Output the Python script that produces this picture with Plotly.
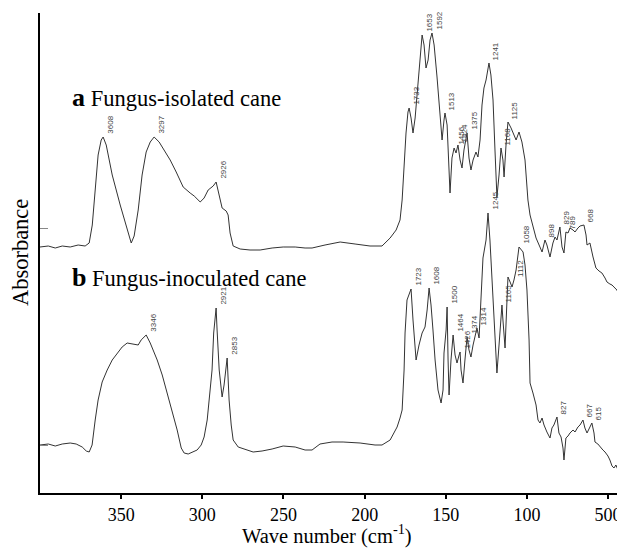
import plotly.graph_objects as go

# ---------------- data (absorbance in arbitrary units) -------------
wn_a = [4000, 3949, 3906, 3863, 3814, 3765, 3722, 3697, 3678, 3660, 3642, 3623, 3611, 3592, 3555, 3506,
        3463, 3438, 3420, 3395, 3371, 3346, 3321, 3297, 3266, 3229, 3198, 3161, 3118, 3075, 3050, 3013,
        2989, 2964, 2933, 2915, 2896, 2878, 2853, 2841, 2829, 2810, 2767, 2706, 2644, 2570, 2502, 2428,
        2367, 2324, 2244, 2151, 2059, 1967, 1893, 1843, 1806, 1782, 1769, 1757, 1745, 1733, 1726, 1714,
        1702, 1689, 1671, 1659, 1646, 1634, 1622, 1609, 1597, 1585, 1572, 1554, 1535, 1523, 1511, 1505,
        1492, 1480, 1474, 1462, 1449, 1437, 1425, 1412, 1400, 1388, 1375, 1369, 1357, 1345, 1332, 1314,
        1302, 1289, 1277, 1265, 1252, 1234, 1222, 1209, 1197, 1185, 1172, 1160, 1148, 1141, 1129, 1117,
        1098, 1080, 1067, 1049, 1031, 1012, 994, 981, 963, 944, 920, 907, 889, 877, 858, 840, 827, 815,
        797, 784, 772, 760, 747, 735, 716, 704, 686, 673, 649, 636, 630, 612, 593, 575, 556, 538, 519,
        507, 489, 476, 458, 446, 433, 427, 415, 402]
abs_a = [246, 247, 245, 247, 246, 248, 247, 250, 268, 303, 338, 353, 356, 348, 318, 288,
         263, 250, 257, 283, 318, 341, 351, 356, 351, 341, 333, 321, 306, 300, 297, 291,
         295, 303, 307, 311, 298, 285, 282, 278, 260, 247, 244, 243, 243, 245, 246, 246,
         245, 245, 248, 251, 249, 247, 247, 255, 263, 273, 293, 328, 360, 381, 385, 375,
         360, 375, 410, 438, 458, 448, 425, 433, 453, 460, 448, 416, 378, 353, 373, 380,
         368, 318, 300, 335, 345, 340, 348, 333, 325, 343, 358, 360, 335, 323, 333, 341,
         336, 353, 388, 405, 413, 430, 418, 393, 343, 296, 318, 345, 333, 316, 348, 371,
         365, 358, 353, 361, 351, 333, 293, 278, 266, 255, 246, 241, 253, 248, 236, 250, 256, 253,
         266, 246, 240, 261, 260, 265, 263, 261, 265, 267, 268, 258, 248, 250, 236, 225, 222, 220, 215,
         211, 209, 208, 205, 203, 198, 195, 196, 193]

wn_b = [4000, 3949, 3906, 3863, 3814, 3777, 3740, 3715, 3697, 3679, 3660, 3642, 3617, 3586, 3555, 3525,
        3494, 3463, 3426, 3395, 3377, 3346, 3321, 3297, 3278, 3247, 3217, 3186, 3155, 3130, 3112, 3087,
        3063, 3032, 3007, 2989, 2970, 2952, 2940, 2930, 2915, 2909, 2896, 2878, 2866, 2847, 2835, 2822,
        2810, 2779, 2736, 2687, 2632, 2570, 2502, 2428, 2367, 2324, 2275, 2201, 2133, 2028, 1936, 1893,
        1843, 1800, 1782, 1769, 1757, 1751, 1739, 1726, 1714, 1702, 1683, 1665, 1646, 1628, 1615, 1603,
        1591, 1579, 1566, 1548, 1529, 1517, 1511, 1498, 1492, 1486, 1480, 1468, 1455, 1443, 1431, 1418,
        1412, 1406, 1394, 1382, 1369, 1357, 1345, 1332, 1320, 1308, 1295, 1283, 1271, 1252, 1240, 1228,
        1215, 1203, 1185, 1172, 1154, 1148, 1135, 1123, 1117, 1104, 1092, 1080, 1067, 1049, 1037, 1024,
        1012, 1000, 987, 981, 963, 944, 932, 920, 907, 895, 877, 858, 846, 834, 815, 803, 790, 778, 772,
        760, 747, 735, 716, 704, 686, 673, 655, 643, 630, 612, 600, 587, 581, 563, 550, 532, 519, 501,
        489, 476, 464, 452, 439, 427, 415, 409, 402]
abs_b = [48, 49, 47, 49, 50, 49, 46, 42, 41, 48, 73, 93, 111, 123, 133, 140,
         146, 150, 149, 148, 153, 158, 150, 141, 133, 118, 100, 81, 63, 45, 40, 39,
         41, 43, 48, 56, 73, 100, 123, 160, 185, 163, 123, 96, 108, 135, 93, 68,
         53, 46, 44, 41, 42, 44, 47, 46, 43, 43, 49, 51, 51, 50, 48, 48,
         53, 66, 75, 83, 123, 160, 193, 198, 204, 173, 133, 148, 160, 166, 183, 205,
         188, 163, 133, 103, 90, 103, 140, 163, 186, 133, 98, 133, 158, 138, 130, 138,
         141, 123, 110, 133, 156, 143, 136, 148, 158, 165, 155, 193, 235, 253, 280, 253,
         213, 163, 120, 148, 188, 173, 145, 193, 216, 211, 206, 213, 223, 246, 243, 241,
         228, 203, 153, 110, 100, 88, 73, 70, 75, 68, 61, 55, 65, 68, 76, 60, 56, 45, 33,
         55, 57, 60, 63, 61, 66, 68, 73, 65, 60, 66, 70, 60, 51, 49, 46, 43, 41, 37,
         33, 27, 25, 28, 23, 20, 18, 10, 13]

peak_labels_a = ["3608", "3297", "2926", "1733", "1653", "1592", "1513", "1456", "1424", "1375",
                 "1241", "1168", "1125", "898", "829", "789", "668"]
peak_wn_a = [3611, 3297, 2915, 1726, 1646, 1585, 1505, 1449, 1425, 1369, 1234, 1160, 1117, 889, 797, 760, 649]
peak_abs_a = [356, 356, 311, 385, 458, 460, 380, 345, 348, 360, 430, 345, 371, 253, 266, 261, 268]

peak_labels_b = ["3346", "2921", "2853", "1723", "1608", "1500", "1464", "1426", "1374", "1314",
                 "1245", "1165", "1112", "1058", "827", "667", "615"]
peak_wn_b = [3346, 2915, 2847, 1714, 1603, 1492, 1455, 1412, 1369, 1308, 1240, 1154, 1080, 1049, 815, 655, 600]
peak_abs_b = [158, 185, 135, 204, 205, 186, 158, 141, 156, 165, 280, 188, 213, 246, 76, 73, 70]

tick_vals = [3500, 3000, 2500, 2000, 1500, 1000, 500]
tick_text = ["350", "300", "250", "200", "150", "100", "500"]

# ---------------- figure ----------------
SERIF = "Liberation Serif, Times New Roman, serif"
SANS = "Liberation Sans, Arial, sans-serif"

fig = go.Figure()
fig.add_trace(go.Scatter(x=wn_a, y=abs_a, mode="lines", line=dict(color="#333333", width=1),
                         showlegend=False, hoverinfo="skip"))
fig.add_trace(go.Scatter(x=wn_b, y=abs_b, mode="lines", line=dict(color="#333333", width=1),
                         showlegend=False, hoverinfo="skip"))

annotations = []
for lab, x, y in list(zip(peak_labels_a, peak_wn_a, peak_abs_a)) + list(zip(peak_labels_b, peak_wn_b, peak_abs_b)):
    annotations.append(dict(x=x, y=y, xref="x", yref="y", text=lab, showarrow=False, textangle=-90,
                            xanchor="left", yanchor="bottom", xshift=0, yshift=1,
                            font=dict(family=SANS, size=8, color="#444444")))

annotations.append(dict(xref="paper", yref="paper", x=0.0513, y=0.825, xanchor="left", yanchor="middle",
                        showarrow=False,
                        text="<b><span style='font-size:26px'>a</span></b> Fungus-isolated cane",
                        font=dict(family=SERIF, size=22.5, color="black")))
annotations.append(dict(xref="paper", yref="paper", x=0.0513, y=0.448, xanchor="left", yanchor="middle",
                        showarrow=False,
                        text="<b><span style='font-size:26px'>b</span></b> Fungus-inoculated cane",
                        font=dict(family=SERIF, size=22.5, color="black")))
annotations.append(dict(xref="paper", yref="paper", x=-0.034, y=0.5, xanchor="center", yanchor="middle",
                        showarrow=False, textangle=-90, text="Absorbance",
                        font=dict(family=SERIF, size=22.5, color="black")))
annotations.append(dict(xref="paper", yref="paper", x=0.4906, y=-0.087, xanchor="center", yanchor="middle",
                        showarrow=False, text="Wave number (cm<sup>-1</sup>)",
                        font=dict(family=SERIF, size=20.5, color="black")))

fig.update_layout(
    width=625, height=549,
    margin=dict(l=32, r=8, t=5, b=64),
    paper_bgcolor="white", plot_bgcolor="white",
    annotations=annotations,
    xaxis=dict(range=[4000, 396], tickvals=tick_vals, ticktext=tick_text,
               showgrid=False, zeroline=False, showline=True, linecolor="black", linewidth=2,
               ticks="outside", ticklen=4, tickwidth=1.5, tickcolor="black",
               tickfont=dict(family=SERIF, size=18, color="black")),
    yaxis=dict(range=[0, 480], showgrid=False, zeroline=False, showline=True, linecolor="black",
               linewidth=1.5, showticklabels=False, tickvals=[48, 265], ticks="inside",
               ticklen=8, tickwidth=1, tickcolor="#888888"),
)

fig.write_html("out.html")
